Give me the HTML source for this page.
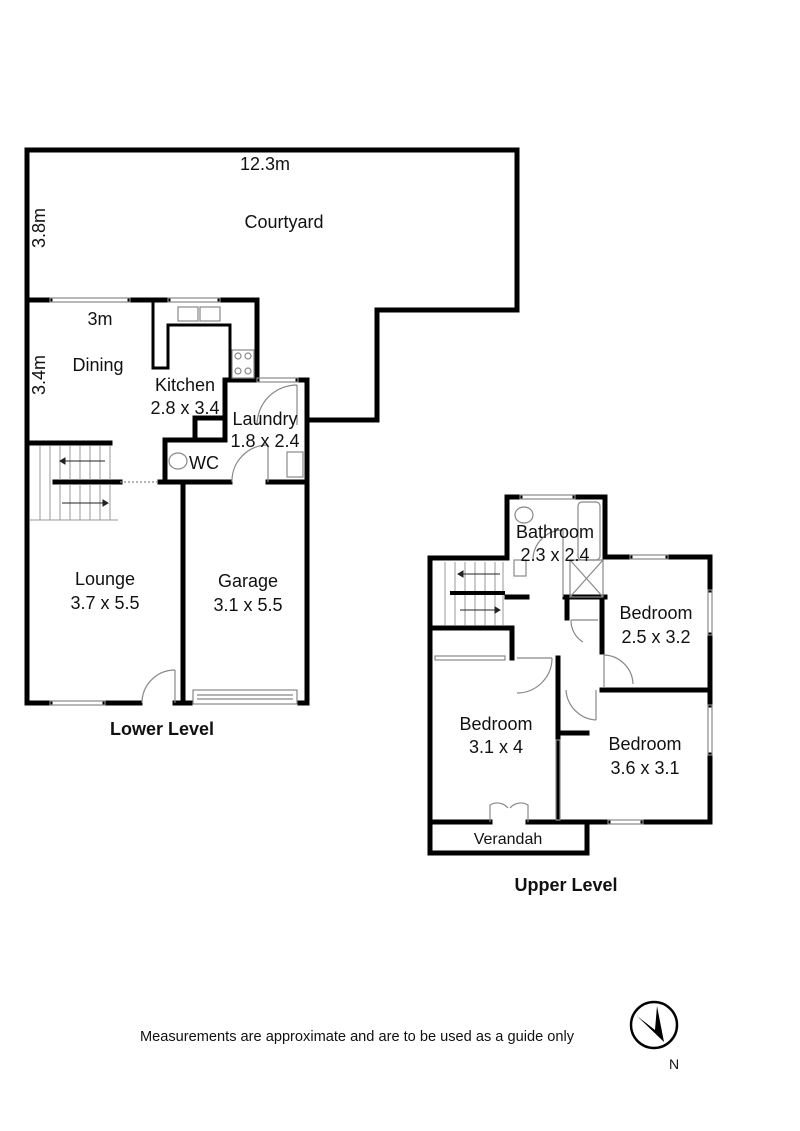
<!DOCTYPE html>
<html><head><style>
html,body{margin:0;padding:0;background:#fff;}
svg{display:block;}
text{font-family:"Liberation Sans",sans-serif;fill:#111;}
</style></head><body>
<svg width="800" height="1131" viewBox="0 0 800 1131" xmlns="http://www.w3.org/2000/svg">
<g fill="none" stroke="#000" stroke-width="5" stroke-linecap="square">
<polyline points="27,150 517,150 517,310 377,310 377,420 307,420"/>
<line x1="27" y1="150" x2="27" y2="703"/>
<line x1="27" y1="300" x2="50" y2="300"/>
<line x1="130" y1="300" x2="168" y2="300"/>
<line x1="220" y1="300" x2="257" y2="300"/>
<line x1="257" y1="300" x2="257" y2="378"/>
<line x1="225" y1="380" x2="257" y2="380"/>
<line x1="298" y1="380" x2="307" y2="380"/>
<line x1="307" y1="380" x2="307" y2="703"/>
<line x1="225" y1="380" x2="225" y2="440"/>
<line x1="165" y1="440" x2="225" y2="440"/>
<line x1="165" y1="440" x2="165" y2="482"/>
<line x1="195" y1="418" x2="195" y2="440"/>
<line x1="195" y1="418" x2="222" y2="418"/>
<line x1="27" y1="443" x2="110" y2="443"/>
<line x1="55" y1="482" x2="120" y2="482"/>
<line x1="160" y1="482" x2="230" y2="482"/>
<line x1="268" y1="482" x2="307" y2="482"/>
<line x1="183" y1="482" x2="183" y2="703"/>
<line x1="27" y1="703" x2="50" y2="703"/>
<line x1="105" y1="703" x2="140" y2="703"/>
<line x1="175" y1="703" x2="190" y2="703"/>
<line x1="300" y1="703" x2="307" y2="703"/>
<polyline points="507,558 507,497 520,497"/>
<polyline points="575,497 605,497 605,557"/>
<line x1="507" y1="597" x2="527" y2="597"/>
<line x1="565" y1="597" x2="605" y2="597"/>
<line x1="567" y1="597" x2="567" y2="618"/>
<line x1="605" y1="557" x2="630" y2="557"/>
<line x1="668" y1="557" x2="710" y2="557"/>
<line x1="710" y1="557" x2="710" y2="590"/>
<line x1="710" y1="635" x2="710" y2="705"/>
<line x1="710" y1="755" x2="710" y2="822"/>
<line x1="602" y1="597" x2="602" y2="652"/>
<line x1="602" y1="690" x2="710" y2="690"/>
<line x1="430" y1="558" x2="507" y2="558"/>
<line x1="430" y1="558" x2="430" y2="853"/>
<line x1="430" y1="628" x2="512" y2="628"/>
<line x1="512" y1="628" x2="512" y2="658"/>
<line x1="558" y1="658" x2="558" y2="822"/>
<line x1="558" y1="733" x2="587" y2="733"/>
<line x1="430" y1="822" x2="490" y2="822"/>
<line x1="528" y1="822" x2="608" y2="822"/>
<line x1="643" y1="822" x2="710" y2="822"/>
<line x1="430" y1="853" x2="587" y2="853"/>
<line x1="587" y1="822" x2="587" y2="853"/>
</g>
<g fill="none" stroke="#888" stroke-width="1.2">
<rect x="50" y="298" width="80" height="4"/><rect x="168" y="298" width="52" height="4"/>
<rect x="257" y="378" width="41" height="4"/><rect x="50" y="701" width="55" height="4"/>
<rect x="520" y="495" width="55" height="4"/><rect x="630" y="555" width="38" height="4"/>
<rect x="708" y="590" width="4" height="45"/><rect x="708" y="705" width="4" height="50"/>
<rect x="608" y="820" width="35" height="4"/><rect x="435" y="656" width="70" height="4"/>
<rect x="556" y="740" width="4" height="80"/>
<path d="M297,385 A40,40 0 0 0 257,425 M297,385 L297,425"/>
<path d="M268,445 A36,36 0 0 0 232,482 M268,445 L268,482"/>
<path d="M175,670 A33,33 0 0 0 142,703 M175,670 L175,703"/>
<path d="M563,530 A30,30 0 0 0 533,560 M563,530 V597"/>
<path d="M552,658 A35,35 0 0 1 517,693 M552,658 H517"/>
<path d="M604,655 A30,30 0 0 1 633,684 M604,655 V688"/>
<path d="M566,690 A32,32 0 0 0 596,720 M596,690 V720"/>
<path d="M571,620 L598,620 M571,620 A25,25 0 0 0 583,642"/>
<path d="M490,822 V805 A14,14 0 0 1 508,808 M528,822 V805 A14,14 0 0 0 510,808"/>
<line x1="120" y1="482" x2="160" y2="482" stroke-dasharray="2,2"/>
<rect x="193" y="690" width="104" height="14"/><line x1="197" y1="695" x2="293" y2="695"/><line x1="197" y1="699" x2="293" y2="699"/>
<rect x="178" y="307" width="20" height="14"/><rect x="200" y="307" width="20" height="14"/>
<rect x="232" y="350" width="22" height="28"/><circle cx="238" cy="356" r="3"/><circle cx="248" cy="356" r="3"/><circle cx="238" cy="371" r="3"/><circle cx="248" cy="371" r="3"/>
<rect x="287" y="452" width="16" height="25"/><ellipse cx="178" cy="461" rx="9" ry="8"/>
<rect x="578" y="502" width="22" height="58" rx="4"/><path d="M570,560 H603 V597 H570 Z M570,560 L603,597 M603,560 L570,597"/>
<ellipse cx="524" cy="515" rx="9" ry="8"/><rect x="514" y="560" width="12" height="16"/>
</g>
<polyline points="153,300 153,368 168,368 168,325 230,325 230,378" fill="none" stroke="#000" stroke-width="3"/>
<g stroke="#999" stroke-width="1">
<path d="M40,446 V520 M50,446 V520 M60,446 V520 M70,446 V520 M80,446 V520 M90,446 V520 M100,446 V520 M110,446 V520 M30,520 H118"/>
<path d="M445,562 V625 M455,562 V625 M465,562 V625 M475,562 V625 M485,562 V625 M495,562 V625 M503,562 V625"/>
</g>
<g stroke="#000" stroke-width="4"><line x1="55" y1="482" x2="120" y2="482"/><line x1="450" y1="593" x2="505" y2="593"/></g>
<g stroke="#222" stroke-width="1" fill="#222">
<line x1="62" y1="461" x2="105" y2="461"/><path d="M60,461 l5,-3 v6z"/>
<line x1="62" y1="503" x2="106" y2="503"/><path d="M108,503 l-5,-3 v6z"/>
<line x1="460" y1="574" x2="500" y2="574"/><path d="M458,574 l5,-3 v6z"/>
<line x1="460" y1="610" x2="498" y2="610"/><path d="M500,610 l-5,-3 v6z"/>
</g>
<g font-size="18" text-anchor="middle">
<text x="265" y="170">12.3m</text>
<text x="284" y="228">Courtyard</text>
<text x="45" y="228" transform="rotate(-90 45 228)">3.8m</text>
<text x="100" y="325">3m</text>
<text x="98" y="371">Dining</text>
<text x="45" y="375" transform="rotate(-90 45 375)">3.4m</text>
<text x="185" y="391">Kitchen</text>
<text x="185" y="414">2.8 x 3.4</text>
<text x="265" y="425">Laundry</text>
<text x="265" y="447">1.8 x 2.4</text>
<text x="204" y="469">WC</text>
<text x="105" y="585">Lounge</text>
<text x="105" y="609">3.7 x 5.5</text>
<text x="248" y="587">Garage</text>
<text x="248" y="611">3.1 x 5.5</text>
<text x="555" y="538">Bathroom</text>
<text x="555" y="561">2.3 x 2.4</text>
<text x="656" y="619">Bedroom</text>
<text x="656" y="643">2.5 x 3.2</text>
<text x="496" y="730">Bedroom</text>
<text x="496" y="753">3.1 x 4</text>
<text x="645" y="750">Bedroom</text>
<text x="645" y="774">3.6 x 3.1</text>
<text x="508" y="844" font-size="16">Verandah</text>
<text x="162" y="735" font-weight="bold">Lower Level</text>
<text x="566" y="891" font-weight="bold">Upper Level</text>
<text x="357" y="1041" font-size="14.6">Measurements are approximate and are to be used as a guide only</text>
<text x="674" y="1069" font-size="14">N</text>
</g>
<circle cx="654" cy="1025" r="23" fill="none" stroke="#000" stroke-width="2.5"/>
<path d="M637,1016 L655,1030 L657,1006 L664,1042 Z" fill="#000"/>
</svg>
</body></html>
